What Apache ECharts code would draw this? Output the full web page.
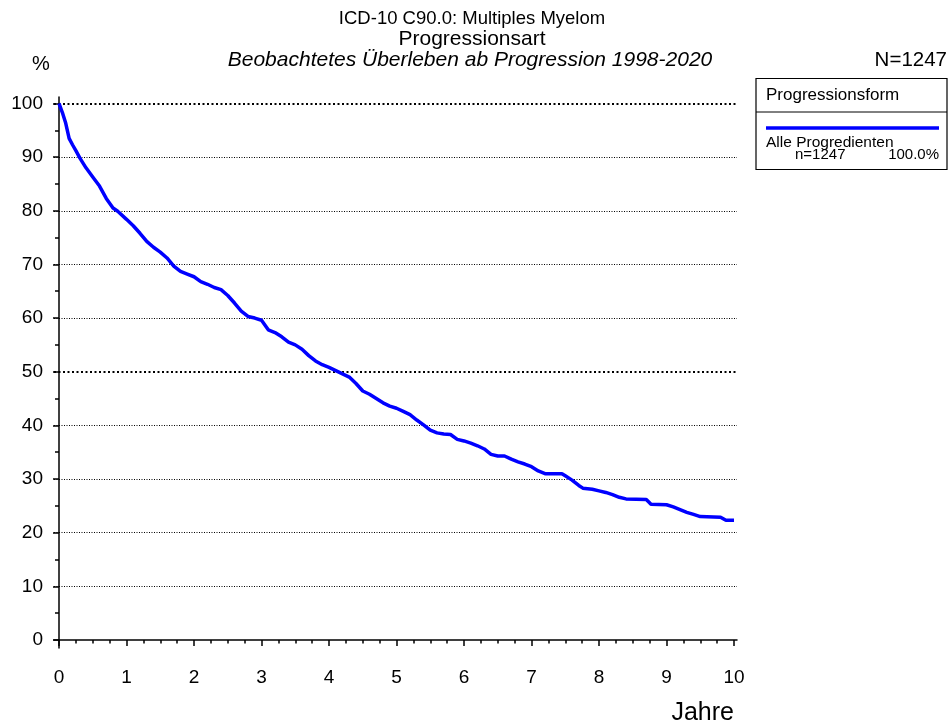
<!DOCTYPE html>
<html>
<head>
<meta charset="utf-8">
<script src="https://cdn.jsdelivr.net/npm/echarts@6/dist/echarts.min.js"></script>
<style>
html,body{margin:0;padding:0;background:#fff;}
#chart{width:948px;height:728px;}
</style>
</head>
<body>
<div id="chart"></div>
<script>
// ---- data ----
const years = [0,0.05,0.1,0.15,0.2,0.25,0.31,0.4,0.5,0.6,0.7,0.8,0.87,1.0,1.1,1.2,1.3,1.4,1.5,1.6,1.7,1.8,1.9,2.0,2.1,2.2,2.3,2.4,2.5,2.6,2.7,2.8,2.9,3.0,3.1,3.2,3.3,3.4,3.5,3.6,3.7,3.8,3.9,4.0,4.1,4.2,4.3,4.4,4.5,4.6,4.7,4.8,4.9,5.0,5.1,5.2,5.3,5.4,5.5,5.6,5.7,5.8,5.9,6.0,6.1,6.2,6.3,6.4,6.5,6.6,6.7,6.8,6.9,7.0,7.1,7.2,7.45,7.5,7.6,7.7,7.76,7.9,8.0,8.1,8.2,8.3,8.4,8.7,8.77,9.0,9.1,9.2,9.3,9.4,9.5,9.8,9.88,10.0];
const survival = [100,98.3,96.3,93.5,92.3,91.2,89.8,88,86.3,84.6,82.3,80.5,79.9,78.4,77.2,75.8,74.3,73.2,72.3,71.2,69.7,68.7,68.2,67.7,66.8,66.3,65.7,65.3,64.2,62.8,61.3,60.3,60,59.6,57.8,57.3,56.5,55.5,55,54.2,53,52,51.3,50.8,50.2,49.6,49.0,47.8,46.4,45.8,45,44.2,43.6,43.2,42.6,42,41,40.1,39.1,38.6,38.4,38.3,37.4,37.1,36.7,36.2,35.6,34.6,34.3,34.3,33.7,33.2,32.8,32.3,31.5,31.0,31.0,30.6,29.8,28.8,28.3,28.1,27.8,27.5,27.1,26.6,26.3,26.2,25.3,25.2,24.8,24.3,23.8,23.4,23.0,22.9,22.3,22.3];
const xTicks = [0,1,2,3,4,5,6,7,8,9,10];
const xMinorTicks = [0.25,0.5,0.75,1.25,1.5,1.75,2.25,2.5,2.75,3.25,3.5,3.75,4.25,4.5,4.75,5.25,5.5,5.75,6.25,6.5,6.75,7.25,7.5,7.75,8.25,8.5,8.75,9.25,9.5,9.75];
const yTicks = [0,10,20,30,40,50,60,70,80,90,100];
const yMinorTicks = [5,15,25,35,45,55,65,75,85,95];
const gridLevels = [10,20,30,40,50,60,70,80,90,100];
const boldLevels = [50,100];
const titleLines = ['ICD-10 C90.0: Multiples Myelom','Progressionsart','Beobachtetes Überleben ab Progression 1998-2020'];
const xName = 'Jahre';
const yName = '%';
const legendTitle = 'Progressionsform';
const groupName = 'Alle Progredienten';
const groupN = 'n=1247';
const groupPct = '100.0%';
const totalN = 'N=1247';

// axis extents slightly beyond the data range (axis lines sit outside the plot)
const X_MIN = -0.074, X_MAX = 10.044;
const Y_MIN = -1.49, Y_MAX = 101.2;

const FONT = 'Liberation Sans, Arial, Helvetica, sans-serif';
const chart = echarts.init(document.getElementById('chart'), null, {renderer:'canvas'});
const seriesData = years.map((t,i)=>[t, survival[i]]);

const gridLines = gridLevels.map(v=>{
  const bold = boldLevels.includes(v);
  return [
    {coord:[X_MIN, v], lineStyle: bold ? {color:'#000', type:[2,2.5], width:2.2} : {color:'#000', type:[1,1.5], width:1}},
    {coord:[X_MAX, v]}
  ];
});

chart.setOption({
  animation:false,
  backgroundColor:'#fff',
  grid:{left:54, right:211, top:97, bottom:80, containLabel:false},
  xAxis:[{
    type:'value', min:X_MIN, max:X_MAX, position:'bottom',
    axisLine:{show:true, lineStyle:{color:'#000', width:1.5}},
    axisTick:{show:true, length:6, customValues:xTicks, lineStyle:{color:'#000', width:1.5}},
    axisLabel:{show:true, customValues:xTicks, color:'#000', fontSize:19, fontFamily:FONT, margin:20},
    splitLine:{show:false}
  },{
    type:'value', min:X_MIN, max:X_MAX, position:'bottom', offset:0,
    axisLine:{show:false},
    axisTick:{show:true, length:3.5, customValues:xMinorTicks, lineStyle:{color:'#000', width:1.5}},
    axisLabel:{show:false},
    splitLine:{show:false}
  }],
  yAxis:[{
    type:'value', min:Y_MIN, max:Y_MAX, position:'left',
    axisLine:{show:true, lineStyle:{color:'#000', width:1.5}},
    axisTick:{show:true, length:6, customValues:yTicks, lineStyle:{color:'#000', width:1.5}},
    axisLabel:{show:true, customValues:yTicks, color:'#000', fontSize:19, fontFamily:FONT, margin:11},
    splitLine:{show:false}
  },{
    type:'value', min:Y_MIN, max:Y_MAX, position:'left', offset:0,
    axisLine:{show:false},
    axisTick:{show:true, length:4, customValues:yMinorTicks, lineStyle:{color:'#000', width:1.5}},
    axisLabel:{show:false},
    splitLine:{show:false}
  }],
  series:[{
    type:'line', xAxisIndex:0, yAxisIndex:0, data:seriesData, showSymbol:false, symbol:'none',
    lineStyle:{color:'#0000ff', width:3.5}, z:5,
    markLine:{silent:true, symbol:'none', label:{show:false}, z:1,
      data: gridLines}
  }],
  graphic:[
    {type:'text', x:472, y:19, style:{text:titleLines[0], font:'18.5px '+FONT, fill:'#000', textAlign:'center', textVerticalAlign:'middle'}},
    {type:'text', x:472, y:39, style:{text:titleLines[1], font:'21px '+FONT, fill:'#000', textAlign:'center', textVerticalAlign:'middle'}},
    {type:'text', x:470, y:60, style:{text:titleLines[2], font:'italic 21px '+FONT, fill:'#000', textAlign:'center', textVerticalAlign:'middle'}},
    {type:'text', x:41, y:64, style:{text:yName, font:'20px '+FONT, fill:'#000', textAlign:'center', textVerticalAlign:'middle'}},
    {type:'text', x:947, y:60, style:{text:totalN, font:'20.5px '+FONT, fill:'#000', textAlign:'right', textVerticalAlign:'middle'}},
    {type:'text', x:734, y:713, style:{text:xName, font:'25px '+FONT, fill:'#000', textAlign:'right', textVerticalAlign:'middle'}},
    {type:'rect', shape:{x:756, y:78.5, width:191, height:91}, style:{fill:'#fff', stroke:'#000', lineWidth:1.2}},
    {type:'line', shape:{x1:756, y1:112, x2:947, y2:112}, style:{stroke:'#000', lineWidth:1}},
    {type:'text', x:766, y:95, style:{text:legendTitle, font:'17px '+FONT, fill:'#000', textAlign:'left', textVerticalAlign:'middle'}},
    {type:'line', shape:{x1:766, y1:128, x2:939, y2:128}, style:{stroke:'#0000ff', lineWidth:3.5}},
    {type:'text', x:766, y:143, style:{text:groupName, font:'15.5px '+FONT, fill:'#000', textAlign:'left', textVerticalAlign:'middle'}},
    {type:'text', x:795, y:155, style:{text:groupN, font:'15px '+FONT, fill:'#000', textAlign:'left', textVerticalAlign:'middle'}},
    {type:'text', x:939, y:155, style:{text:groupPct, font:'15px '+FONT, fill:'#000', textAlign:'right', textVerticalAlign:'middle'}}
  ]
});
</script>
</body>
</html>
